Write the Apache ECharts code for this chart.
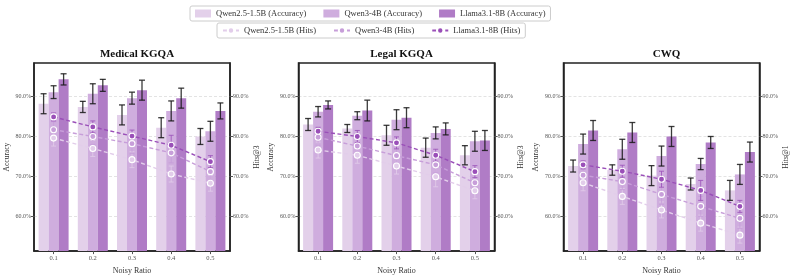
<!DOCTYPE html>
<html><head><meta charset="utf-8">
<script src="https://cdn.jsdelivr.net/npm/echarts@6/dist/echarts.min.js"></script>
<style>html,body{margin:0;padding:0;background:#fff}#c{width:794px;height:280px}</style>
</head><body><div id="c"></div>
<script>
const categories = ['0.1','0.2','0.3','0.4','0.5'];
const datasets = ['Medical KGQA','Legal KGQA','CWQ'];
const hitsAxisNames = ['Hits@3','Hits@3','Hits@1'];
const models = ['Qwen2.5-1.5B','Qwen3-4B','Llama3.1-8B'];
const yTicks = [60,70,80,90];

// Medical KGQA
const medAccQwen25 = [88.2, 87.4, 85.4, 82.2, 80.0];
const medAccQwen3  = [91.1, 90.7, 89.6, 86.4, 81.3];
const medAccLlama  = [94.3, 92.8, 91.6, 89.6, 86.4];
const medAccErrQwen25 = [2.5, 1.4, 2.5, 2.5, 2.0];
const medAccErrQwen3  = [1.6, 2.5, 1.5, 2.5, 2.5];
const medAccErrLlama  = [1.4, 1.5, 2.5, 2.5, 2.0];
const medHitsQwen25 = [79.6, 77.0, 74.2, 70.6, 68.3];
const medHitsQwen3  = [81.7, 80.0, 78.2, 75.9, 71.2];
const medHitsLlama  = [84.9, 82.4, 80.1, 77.8, 73.7];
const medHitsErrQwen25 = [2.0, 2.0, 2.0, 2.0, 2.0];
const medHitsErrQwen3  = [2.0, 2.0, 2.5, 2.5, 2.5];
const medHitsErrLlama  = [1.0, 1.5, 1.5, 2.5, 1.5];

// Legal KGQA
const legAccQwen25 = [83.0, 82.0, 80.3, 77.2, 75.3];
const legAccQwen3  = [86.2, 85.2, 84.2, 80.9, 78.8];
const legAccLlama  = [87.9, 86.5, 84.7, 81.9, 79.0];
const legAccErrQwen25 = [1.5, 1.0, 2.5, 2.4, 2.4];
const legAccErrQwen3  = [1.3, 1.0, 2.5, 1.5, 2.5];
const legAccErrLlama  = [1.0, 2.6, 2.5, 1.5, 2.5];
const legHitsQwen25 = [76.6, 75.3, 72.6, 69.9, 66.4];
const legHitsQwen3  = [79.8, 77.6, 75.2, 72.9, 68.4];
const legHitsLlama  = [81.3, 80.0, 78.4, 75.3, 71.2];
const legHitsErrQwen25 = [2.0, 2.0, 2.0, 2.5, 2.0];
const legHitsErrQwen3  = [2.0, 2.5, 2.0, 2.0, 2.5];
const legHitsErrLlama  = [1.0, 1.5, 1.5, 1.5, 1.5];

// CWQ
const cwqAccQwen25 = [72.6, 71.6, 70.2, 68.1, 66.5];
const cwqAccQwen3  = [78.1, 76.8, 75.1, 73.1, 70.5];
const cwqAccLlama  = [81.5, 81.0, 80.0, 78.5, 76.1];
const cwqAccErrQwen25 = [1.5, 1.3, 2.5, 1.5, 2.5];
const cwqAccErrQwen3  = [2.5, 2.5, 2.5, 1.4, 2.5];
const cwqAccErrLlama  = [2.5, 2.5, 2.5, 1.5, 2.5];
const cwqHitsQwen25 = [68.4, 65.0, 61.6, 58.3, 55.3];
const cwqHitsQwen3  = [70.3, 68.7, 65.5, 62.5, 59.5];
const cwqHitsLlama  = [72.9, 71.3, 69.3, 66.5, 62.5];
const cwqHitsErrQwen25 = [2.0, 2.0, 2.0, 2.0, 2.0];
const cwqHitsErrQwen3  = [2.0, 2.0, 2.5, 2.5, 2.5];
const cwqHitsErrLlama  = [1.0, 1.5, 2.0, 2.5, 1.5];

const acc = [[medAccQwen25, medAccQwen3, medAccLlama],[legAccQwen25, legAccQwen3, legAccLlama],[cwqAccQwen25, cwqAccQwen3, cwqAccLlama]];
const accErr = [[medAccErrQwen25, medAccErrQwen3, medAccErrLlama],[legAccErrQwen25, legAccErrQwen3, legAccErrLlama],[cwqAccErrQwen25, cwqAccErrQwen3, cwqAccErrLlama]];
const hits = [[medHitsQwen25, medHitsQwen3, medHitsLlama],[legHitsQwen25, legHitsQwen3, legHitsLlama],[cwqHitsQwen25, cwqHitsQwen3, cwqHitsLlama]];
const hitsErr = [[medHitsErrQwen25, medHitsErrQwen3, medHitsErrLlama],[legHitsErrQwen25, legHitsErrQwen3, legHitsErrLlama],[cwqHitsErrQwen25, cwqHitsErrQwen3, cwqHitsErrLlama]];

const barColors = ['#e3d0ea', '#cfadde', '#b07cc6'];
const lineColors = ['#e2cdea', '#c79ed9', '#9a4fb8'];
const FONT = 'Liberation Serif';
const gridLefts = [34, 298.5, 563.5];
const GRID_TOP = 63, GRID_H = 190, GRID_W = 196;
const BAR_W = 10;

const chart = echarts.init(document.getElementById('c'), null, {renderer: 'canvas'});
const grids = [], xAxes = [], yAxes = [], series = [], titles = [];

gridLefts.forEach((gl, p) => {
  grids.push({left: gl, top: GRID_TOP, width: GRID_W, height: GRID_H, show: true, borderColor: '#222', borderWidth: 1.5, backgroundColor: 'transparent'});
  titles.push({text: datasets[p], left: gl + GRID_W / 2, top: 44, textAlign: 'center',
    textStyle: {fontFamily: FONT, fontSize: 11, fontWeight: 'bold', color: '#111'}});
  xAxes.push({gridIndex: p, type: 'category', data: categories,
    axisLine: {show: true, lineStyle: {color: '#222', width: 1.5}},
    axisTick: {show: true, alignWithLabel: true, length: 3, lineStyle: {color: '#555'}},
    axisLabel: {fontFamily: FONT, fontSize: 6.5, color: '#555', margin: 4},
    name: 'Noisy Ratio', nameLocation: 'middle', nameGap: 14,
    nameTextStyle: {fontFamily: FONT, fontSize: 8, color: '#333'}});
  const yCommon = {gridIndex: p, type: 'value', min: 51.3, max: 98.4,
    axisLine: {show: true, lineStyle: {color: '#222', width: 1.5}},
    axisTick: {show: true, length: 3, customValues: yTicks, lineStyle: {color: '#555'}},
    axisLabel: {customValues: yTicks, formatter: v => v.toFixed(1) + '%', fontFamily: FONT, fontSize: 6, color: '#555', margin: 3},
    nameLocation: 'middle', nameRotate: 90,
    nameTextStyle: {fontFamily: FONT, fontSize: 7.5, color: '#333'}};
  yAxes.push(Object.assign({}, yCommon, {position: 'left', name: 'Accuracy', nameGap: 23,
    splitLine: {show: true, lineStyle: {type: [3, 2], color: '#dcdcdc', width: 0.8}}}));
  yAxes.push(Object.assign({}, yCommon, {position: 'right', name: hitsAxisNames[p], nameGap: 23,
    splitLine: {show: false}}));

  models.forEach((m, k) => {
    series.push({type: 'bar', name: m + ' (Accuracy)', xAxisIndex: p, yAxisIndex: 2 * p,
      data: acc[p][k], barWidth: BAR_W, barGap: '0%', itemStyle: {color: barColors[k]}, z: 2, silent: true});
  });
  // accuracy error bars
  const accErrData = [];
  models.forEach((m, k) => categories.forEach((c, i) => accErrData.push([i, acc[p][k][i], accErr[p][k][i], k])));
  series.push({type: 'custom', xAxisIndex: p, yAxisIndex: 2 * p, data: accErrData, z: 5, silent: true,
    renderItem: (params, api) => {
      const x0 = api.coord([api.value(0), api.value(1)])[0] + (api.value(3) - 1) * BAR_W;
      const v = api.value(1), e = api.value(2);
      const yTop = api.coord([api.value(0), v + e])[1];
      const yBot = api.coord([api.value(0), v - e])[1];
      const st = {stroke: 'rgba(25,25,25,0.85)', lineWidth: 1.3};
      return {type: 'group', children: [
        {type: 'line', shape: {x1: x0, y1: yTop, x2: x0, y2: yBot}, style: st},
        {type: 'line', shape: {x1: x0 - 3, y1: yTop, x2: x0 + 3, y2: yTop}, style: st},
        {type: 'line', shape: {x1: x0 - 3, y1: yBot, x2: x0 + 3, y2: yBot}, style: st}
      ]};
    }});
  // hits error bars
  const hitsErrData = [];
  models.forEach((m, k) => categories.forEach((c, i) => hitsErrData.push([i, hits[p][k][i], hitsErr[p][k][i], k])));
  series.push({type: 'custom', xAxisIndex: p, yAxisIndex: 2 * p + 1, data: hitsErrData, z: 6, silent: true,
    renderItem: (params, api) => {
      const x0 = api.coord([api.value(0), api.value(1)])[0];
      const v = api.value(1), e = api.value(2);
      const yTop = api.coord([api.value(0), v + e])[1];
      const yBot = api.coord([api.value(0), v - e])[1];
      const st = {stroke: lineColors[api.value(3)], lineWidth: 1, opacity: 0.8};
      return {type: 'group', children: [
        {type: 'line', shape: {x1: x0, y1: yTop, x2: x0, y2: yBot}, style: st},
        {type: 'line', shape: {x1: x0 - 2.5, y1: yTop, x2: x0 + 2.5, y2: yTop}, style: st},
        {type: 'line', shape: {x1: x0 - 2.5, y1: yBot, x2: x0 + 2.5, y2: yBot}, style: st}
      ]};
    }});
  models.forEach((m, k) => {
    series.push({type: 'line', name: m + ' (Hits)', xAxisIndex: p, yAxisIndex: 2 * p + 1,
      data: hits[p][k], symbol: 'circle', symbolSize: 6, showSymbol: true,
      lineStyle: {color: lineColors[k], width: 1.4, type: [4, 2.5]},
      itemStyle: {color: lineColors[k], borderColor: '#fff', borderWidth: 1.1},
      z: 7, silent: true, animation: false});
  });
});

const legendText = {fontFamily: FONT, fontSize: 8.5, color: '#333'};
chart.setOption({
  animation: false,
  title: titles,
  legend: [
    {data: models.map(m => m + ' (Accuracy)'), left: 190, top: 6, icon: 'rect', itemWidth: 16, itemHeight: 8, itemGap: 17,
      textStyle: legendText, borderColor: '#ccc', borderWidth: 1, borderRadius: 2, padding: [3, 5, 3, 5]},
    {data: models.map(m => m + ' (Hits)'), left: 217, top: 23, itemWidth: 16, itemHeight: 8, itemGap: 17,
      textStyle: legendText, borderColor: '#ccc', borderWidth: 1, borderRadius: 2, padding: [3, 5, 3, 5]}
  ],
  grid: grids, xAxis: xAxes, yAxis: yAxes, series: series
});
</script></body></html>
